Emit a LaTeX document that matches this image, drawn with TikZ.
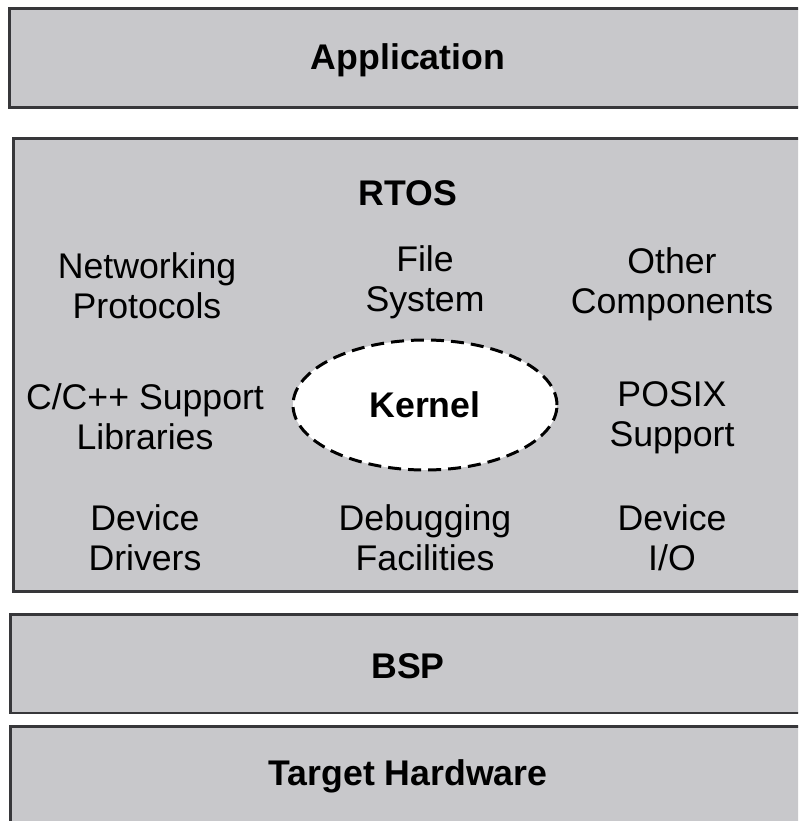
\documentclass[tikz,border=0pt]{standalone}
\usepackage{fontspec}
\setmainfont{Liberation Sans}
\usetikzlibrary{shapes.geometric}
\definecolor{layergray}{RGB}{200,200,203}
\definecolor{edgegray}{RGB}{55,55,58}

\begin{document}
\begin{tikzpicture}[
  x=0.02cm, y=-0.02cm,
  layer/.style={draw=edgegray, fill=layergray, line width=1.7pt, inner sep=0pt},
  title/.style={font=\fontsize{20.3}{22.8}\selectfont\bfseries, yshift=-0.06cm},
  comp/.style={align=center, font=\fontsize{20.3}{22.8}\selectfont, yshift=-0.05cm},
  kernel/.style={ellipse, draw=black, fill=white, line width=1.7pt, dash pattern=on 7.4pt off 4pt,
    minimum width=5.28cm, minimum height=2.6cm, font=\fontsize{20.3}{22.8}\selectfont\bfseries}
]
\clip (0,0) rectangle (798,821);
\fill[white] (0,0) rectangle (798,821);

% layers
\node[layer, minimum width=16.02cm, minimum height=2cm] (app) at (409.5,58) {};
\node[layer, minimum width=15.94cm, minimum height=9.08cm] (rtos) at (411.5,365) {};
\node[layer, minimum width=16cm, minimum height=1.98cm] (bsp) at (410,663.5) {};
\node[layer, minimum width=16cm, minimum height=2.4cm] (hw) at (410,786) {};

\node[title] (apptext) at (408,57) {Application};
\node[title] (rtostext) at (408,190) {RTOS};
\node[title] (bsptext) at (408,663) {BSP};
\node[title] (hwtext) at (408,773) {Target Hardware};

% RTOS components
\node[comp] (net) at (147,283) {Networking\\Protocols};
\node[comp] (fs) at (425,280) {File\\System};
\node[comp] (other) at (672,282) {Other\\Components};
\node[comp] (libs) at (145,414) {C/C++ Support\\Libraries};
\node[kernel] (kern) at (425,405) {Kernel};
\node[comp] (posix) at (672,415) {POSIX\\Support};
\node[comp] (drv) at (145,535) {Device\\Drivers};
\node[comp] (dbg) at (425,535) {Debugging\\Facilities};
\node[comp] (dio) at (672,535) {Device\\I/O};
\end{tikzpicture}
\end{document}
